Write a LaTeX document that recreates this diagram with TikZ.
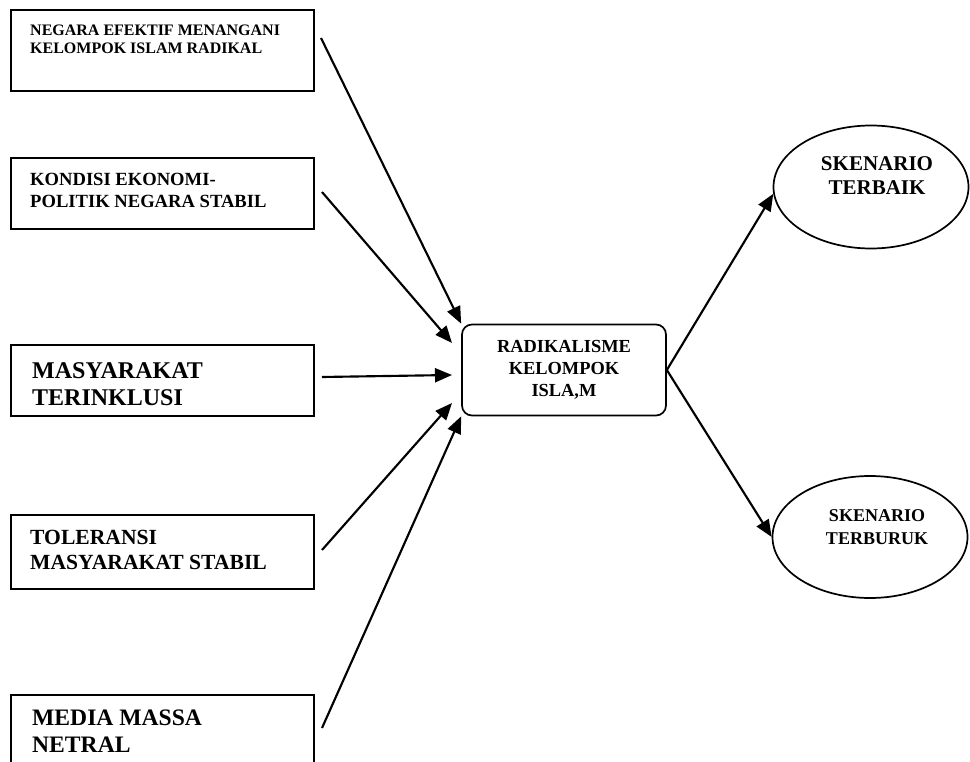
\documentclass[tikz,border=0pt]{standalone}
\usepackage{fontspec}
\setmainfont{Liberation Serif}
\usetikzlibrary{arrows.meta,shapes.geometric}

\tikzset{
	kotak/.style={draw, line width=0.8mm, fill=white, minimum width=303pt, minimum height=#1, anchor=north west, inner sep=0pt},
	tulisan/.style={anchor=north west, align=left, inner sep=0pt},
	panah/.style={line width=0.75mm, -{Triangle[length=17pt,width=14pt]}},
	oval/.style={draw, ellipse, line width=0.6mm, minimum width=195pt, minimum height=123pt, inner sep=0pt},
}

\begin{document}
\begin{tikzpicture}[x=1pt, y=-1pt]
		%%%%% START %%%%%
		\useasboundingbox (0, 0) rectangle (970, 762);
		\clip (0, 0) rectangle (970, 762);
		
		% faktor di kiri
		\node[kotak=81pt] (negara) at (10, 9) {};
		\node[tulisan, font=\bfseries\fontsize{16}{18}\selectfont] (negaraTeks) at (30, 25) {NEGARA EFEKTIF MENANGANI\\KELOMPOK ISLAM RADIKAL};
		
		\node[kotak=71pt] (ekonomi) at (10, 157) {};
		\node[tulisan, font=\bfseries\fontsize{18.6}{22}\selectfont] (ekonomiTeks) at (30, 173) {KONDISI EKONOMI-\\POLITIK NEGARA STABIL};
		
		\node[kotak=71pt] (inklusi) at (10, 344) {};
		\node[tulisan, font=\bfseries\fontsize{24}{27}\selectfont] (inklusiTeks) at (32, 362) {MASYARAKAT\\TERINKLUSI};
		
		\node[kotak=74pt] (toleransi) at (10, 514) {};
		\node[tulisan, font=\bfseries\fontsize{21.6}{25}\selectfont] (toleransiTeks) at (30, 530) {TOLERANSI\\MASYARAKAT STABIL};
		
		\node[kotak=90pt] (media) at (10, 694) {};
		\node[tulisan, font=\bfseries\fontsize{23.6}{27}\selectfont] (mediaTeks) at (32, 710) {MEDIA MASSA\\NETRAL};
		
		% pusat
		\node[draw, rounded corners=10pt, line width=0.6mm, minimum width=204pt, minimum height=91pt, align=center, font=\bfseries\fontsize{18.4}{22}\selectfont] (radikal) at (564, 370) {RADIKALISME\\KELOMPOK\\ISLA,M};
		
		% skenario
		\node[oval] (terbaik) at (871, 187) {};
		\node[align=center, inner sep=0pt, font=\bfseries\fontsize{21}{24}\selectfont] (terbaikTeks) at (877, 176) {SKENARIO\\TERBAIK};
		\node[oval, minimum height=122pt] (terburuk) at (870, 537) {};
		\node[align=center, inner sep=0pt, font=\bfseries\fontsize{18}{23}\selectfont] (terburukTeks) at (877, 527) {SKENARIO\\TERBURUK};
		
		% ujung panah
		\coordinate (negaraOut) at (321, 38);
		\coordinate (ekonomiOut) at (322, 192);
		\coordinate (inklusiOut) at (322, 377);
		\coordinate (toleransiOut) at (322, 550);
		\coordinate (mediaOut) at (322, 728);
		\coordinate (masukB) at (452, 343);
		\coordinate (masukC) at (452, 375);
		\coordinate (masukD) at (452, 403);
		
		\draw[panah] (negaraOut) -- (radikal.north west);
		\draw[panah] (ekonomiOut) -- (masukB);
		\draw[panah] (inklusiOut) -- (masukC);
		\draw[panah] (toleransiOut) -- (masukD);
		\draw[panah] (mediaOut) -- (radikal.south west);
		
		\draw[panah] (radikal.east) -- (terbaik.184);
		\draw[panah] (radikal.east) -- (terburuk.west);
		%%%%% END %%%%%
\end{tikzpicture}
\end{document}
